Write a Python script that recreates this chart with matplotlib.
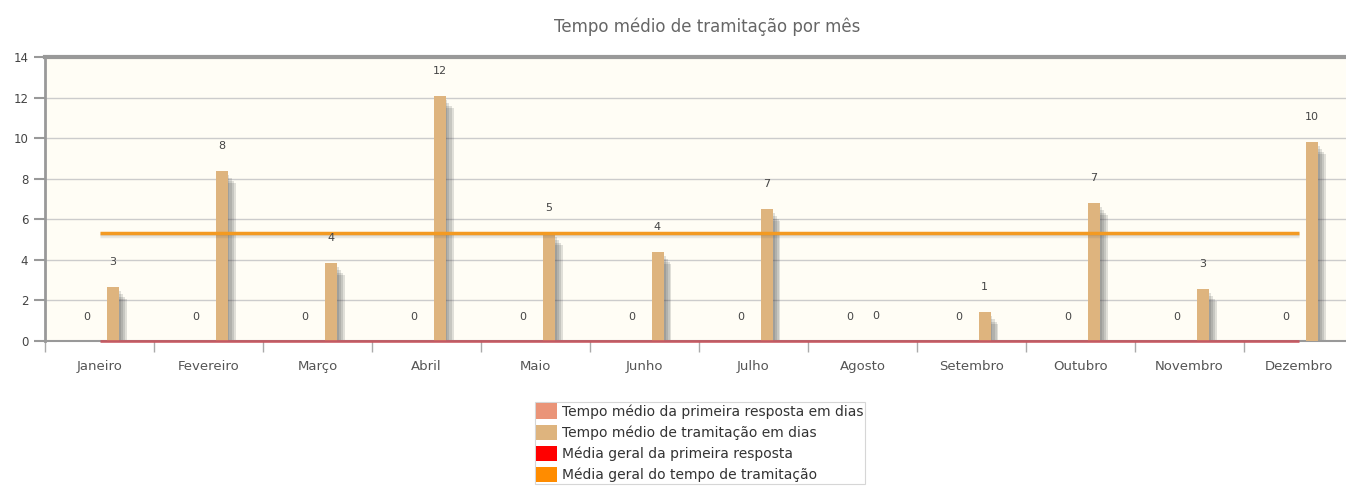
import numpy as np
import matplotlib.pyplot as plt
from matplotlib.patches import Patch

# dados
meses = ['Janeiro', 'Fevereiro', 'Março', 'Abril', 'Maio', 'Junho', 'Julho',
         'Agosto', 'Setembro', 'Outubro', 'Novembro', 'Dezembro']
primeira_resposta = [0, 0, 0, 0, 0, 0, 0, 0, 0, 0, 0, 0]
tramitacao = [2.66, 8.37, 3.84, 12.1, 5.3, 4.4, 6.5, 0, 1.43, 6.8, 2.56, 9.8]
rotulos_primeira = ['0', '0', '0', '0', '0', '0', '0', '0', '0', '0', '0', '0']
rotulos_tramitacao = ['3', '8', '4', '12', '5', '4', '7', '0', '1', '7', '3', '10']
media_primeira = [0] * 12
media_tramitacao = [5.33] * 12

legendas = ['Tempo médio da primeira resposta em dias',
            'Tempo médio de tramitação em dias',
            'Média geral da primeira resposta',
            'Média geral do tempo de tramitação']

cor_primeira = '#ea9478'
cor_tram = '#deb47e'
cor_media1 = '#c8505a'
cor_media2 = '#f39a22'

fig = plt.figure(figsize=(13.46, 4.94), dpi=100)
ax = fig.add_axes([45 / 1346, 1 - 341 / 494, 1308 / 1346, 284 / 494])
ax.set_facecolor('#fffdf5')

x = np.arange(len(meses))
px = 1 / 109.0          # unidade de x por pixel
py = 14 / 284.0         # unidade de y por pixel
w = 12 * px
off = 13 * px

# sombras das barras
for dx, dy in [(2, 4), (4, 7), (6, 10), (8, 12)]:
    alt = [max(v - dy * py, 0) if v > 0 else 0 for v in tramitacao]
    ax.bar(x + off + dx * px, alt, width=w, color='#444444', alpha=0.16,
           zorder=2, linewidth=0)

ax.bar(x - off, primeira_resposta, width=w, color=cor_primeira, zorder=3)
ax.bar(x + off, tramitacao, width=w, color=cor_tram, zorder=3, linewidth=0)

# linhas de média com sombra
for d in [1.5, 3]:
    ax.plot(x, np.array(media_tramitacao) - d * py, color='#555555', alpha=0.12,
            lw=2.5, zorder=4, solid_capstyle='butt')
ax.plot(x, media_tramitacao, color=cor_media2, lw=2.5, zorder=5, solid_capstyle='butt')
ax.plot(x, media_primeira, color=cor_media1, lw=2, zorder=5, alpha=0.85,
        solid_capstyle='butt', clip_on=False)

# rótulos de valor
for i in range(len(meses)):
    ax.annotate(rotulos_primeira[i], (x[i] - off, primeira_resposta[i]),
                xytext=(0, 17), textcoords='offset points', ha='center',
                va='center', fontsize=8, color='#444444', zorder=6)
    ax.annotate(rotulos_tramitacao[i], (x[i] + off, tramitacao[i]),
                xytext=(0, 18), textcoords='offset points', ha='center',
                va='center', fontsize=8, color='#444444', zorder=6)

ax.set_xlim(-0.5, 11.5)
ax.set_ylim(0, 14)
ax.set_yticks(range(0, 15, 2))
ax.set_xticks(x)
ax.set_xticklabels(meses, fontsize=9.5, color='#555555')
ax.set_xticks(np.arange(-0.5, 11.5, 1), minor=True)
ax.tick_params(axis='x', which='major', length=0, pad=14)
ax.tick_params(axis='x', which='minor', length=8, color='#aaaaaa', width=1)
ax.tick_params(axis='y', length=8, color='#999999', width=1.5, pad=4,
               labelsize=8.5, labelcolor='#444444')

ax.grid(axis='y', color='#cccccc', lw=1, zorder=1)
for s in ['left', 'bottom', 'top']:
    ax.spines[s].set_color('#999999')
ax.spines['left'].set_linewidth(2)
ax.spines['bottom'].set_linewidth(1.5)
ax.spines['top'].set_linewidth(3)
ax.spines['right'].set_visible(False)

fig.text(707 / 1346, 1 - 27 / 494, 'Tempo médio de tramitação por mês',
         ha='center', va='center', fontsize=12, color='#666666')

handles = [Patch(facecolor=c, edgecolor='none')
           for c in [cor_primeira, cor_tram, '#ff0000', '#ff8c00']]
leg = fig.legend(handles, legendas, loc='upper center',
                 bbox_to_anchor=(700 / 1346, 1 - 402 / 494), fontsize=10,
                 frameon=True, fancybox=False, edgecolor='#cccccc',
                 handlelength=1.45, handleheight=1.35, handletextpad=0.4,
                 borderpad=0.1, labelspacing=0.4, borderaxespad=0)
leg.get_frame().set_linewidth(0.8)
for t in leg.get_texts():
    t.set_color('#333333')

fig.savefig('out.png', dpi=100)
